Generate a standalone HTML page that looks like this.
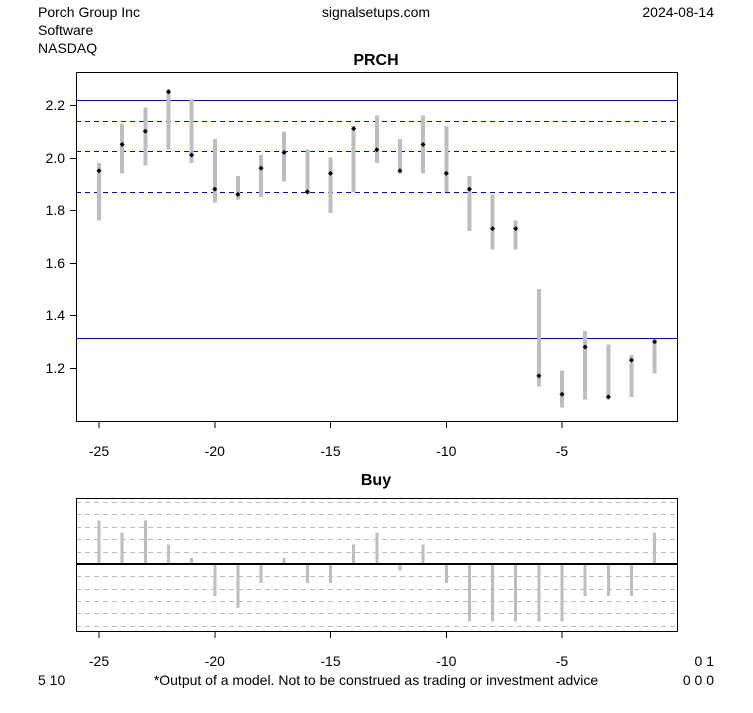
<!DOCTYPE html>
<html><head><meta charset="utf-8"><style>
body{margin:0;background:#fff}
svg text{font-family:"Liberation Sans",Arial,sans-serif;font-size:14px;fill:#000}
line,rect{shape-rendering:crispEdges}
</style></head><body>
<svg id="s" width="753" height="708" xmlns="http://www.w3.org/2000/svg">
<rect width="753" height="708" fill="#fff"/>
<text x="38" y="17">Porch Group Inc</text>
<text x="38" y="35">Software</text>
<text x="38" y="53">NASDAQ</text>
<text x="376" y="17" text-anchor="middle">signalsetups.com</text>
<text x="714" y="17" text-anchor="end">2024-08-14</text>
<text x="376" y="65" text-anchor="middle" font-weight="bold" style="font-size:16px">PRCH</text>
<text x="376" y="485" text-anchor="middle" font-weight="bold" style="font-size:16px">Buy</text>
<g id="main"></g>
<rect x="76.5" y="72.5" width="601" height="349" fill="none" stroke="#000" stroke-width="1"/>
<g text-anchor="end">
<text x="65" y="110">2.2</text><text x="65" y="163">2.0</text><text x="65" y="215">1.8</text>
<text x="65" y="268">1.6</text><text x="65" y="320">1.4</text><text x="65" y="373">1.2</text>
</g>
<g stroke="#000"><line x1="70" x2="76" y1="105.5" y2="105.5"/><line x1="70" x2="76" y1="158.5" y2="158.5"/><line x1="70" x2="76" y1="210.5" y2="210.5"/><line x1="70" x2="76" y1="263.5" y2="263.5"/><line x1="70" x2="76" y1="315.5" y2="315.5"/><line x1="70" x2="76" y1="368.5" y2="368.5"/></g>
<g text-anchor="middle">
<text x="99" y="456">-25</text><text x="214.8" y="456">-20</text><text x="330.5" y="456">-15</text><text x="446.3" y="456">-10</text><text x="562" y="456">-5</text>
<text x="99" y="666">-25</text><text x="214.8" y="666">-20</text><text x="330.5" y="666">-15</text><text x="446.3" y="666">-10</text><text x="562" y="666">-5</text>
<text x="376" y="685">*Output of a model. Not to be construed as trading or investment advice</text>
</g>
<text x="38" y="685">5 10</text>
<text x="714" y="666" text-anchor="end">0 1</text>
<text x="714" y="685" text-anchor="end">0 0 0</text>
<g id="sub"></g>
<rect x="76.5" y="498.5" width="601" height="133" fill="none" stroke="#000" stroke-width="1"/>
</svg>
<script>
var NS="http://www.w3.org/2000/svg";
function el(p,t,a){var e=document.createElementNS(NS,t);for(var k in a)e.setAttribute(k,a[k]);p.appendChild(e);return e;}
var m=document.getElementById("main"),sb=document.getElementById("sub");
function X(i){return 99+(i+25)*23.15;}
function Y(v){return 368-(v-1.2)*263;}
[[100.5,0],[121.5,1],[151.5,1],[192.5,1],[338.5,0]].forEach(function(h){
 el(m,"line",{x1:76,x2:677,y1:h[0],y2:h[0],stroke:"#0000dd","stroke-width":1,"stroke-dasharray":h[1]?"5,4":"none"});});
var d=[[1.76,1.98,1.95],[1.94,2.13,2.05],[1.97,2.19,2.10],[2.03,2.26,2.25],[1.98,2.22,2.01],[1.83,2.07,1.88],[1.84,1.93,1.86],[1.85,2.01,1.96],[1.91,2.10,2.02],[1.86,2.03,1.87],[1.79,2.00,1.94],[1.87,2.12,2.11],[1.98,2.16,2.03],[1.94,2.07,1.95],[1.94,2.16,2.05],[1.87,2.12,1.94],[1.72,1.93,1.88],[1.65,1.86,1.73],[1.65,1.76,1.73],[1.13,1.50,1.17],[1.05,1.19,1.10],[1.08,1.34,1.28],[1.08,1.29,1.09],[1.09,1.25,1.23],[1.18,1.31,1.30]];
d.forEach(function(r,k){var x=X(k-25);
 el(m,"line",{x1:x,x2:x,y1:Y(r[1]),y2:Y(r[0]),stroke:"#bebebe","stroke-width":4});
 var y=Y(r[2]);el(m,"path",{d:"M"+(x-2.5)+" "+y+"L"+x+" "+(y-2.5)+"L"+(x+2.5)+" "+y+"L"+x+" "+(y+2.5)+"Z",fill:"#000"});});
[502.5,514.5,527.5,539.5,552.5,576.5,589.5,601.5,613.5,626.5].forEach(function(y){
 el(sb,"line",{x1:76,x2:677,y1:y,y2:y,stroke:"#bebebe","stroke-dasharray":"5,4"});});
var b=[520.7,532.7,520.7,544.7,558,596,608,583,558,583,583,544.7,532.7,570.7,544.7,583,621.3,621.3,621.3,621.3,621.3,596,596,596,532.7];
b.forEach(function(y,k){var x=X(k-25);el(sb,"line",{x1:x,x2:x,y1:564,y2:y,stroke:"#bebebe","stroke-width":3});});
el(sb,"line",{x1:76,x2:677,y1:564,y2:564,stroke:"#000","stroke-width":2});
[-25,-20,-15,-10,-5].forEach(function(i){var x=X(i);
 el(m,"line",{x1:x,x2:x,y1:421,y2:428,stroke:"#000"});
 el(sb,"line",{x1:x,x2:x,y1:631,y2:638,stroke:"#000"});});
</script>
</body></html>
